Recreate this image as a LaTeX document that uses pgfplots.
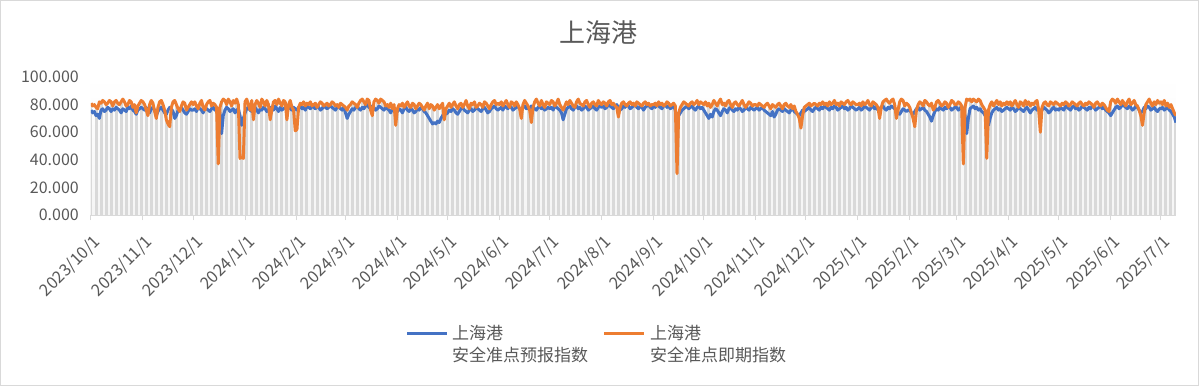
\documentclass[border=0pt]{standalone}
\usepackage{pgfplots}
\pgfplotsset{compat=1.18}
\usepackage{pgfplotstable}
\usepackage{fontspec}
\setmainfont{Noto Sans CJK SC}
\definecolor{sblue}{HTML}{4472C4}
\definecolor{sorange}{HTML}{ED7D31}
\definecolor{txtgray}{HTML}{595959}
\definecolor{axgray}{HTML}{D9D9D9}
\definecolor{dropgray}{HTML}{D9D9D9}

% 上海港 安全准点预报指数 (daily, 2023/10/1 - 2025/7/10)
\pgfplotstableread[header=false,row sep=\\]{
76\\74\\75\\72\\73\\70\\76\\77\\75\\76\\78\\77\\75\\77\\76\\78\\77\\76\\74\\77\\76\\75\\78\\77\\79\\76\\75\\73\\76\\77\\78\\
77\\76\\78\\75\\74\\77\\78\\76\\72\\75\\77\\78\\76\\74\\73\\76\\78\\77\\75\\70\\72\\76\\77\\78\\76\\74\\73\\75\\77\\76\\
76\\77\\75\\78\\77\\76\\74\\78\\77\\76\\75\\77\\78\\76\\77\\75\\74\\59\\72\\76\\78\\77\\75\\76\\77\\74\\76\\77\\72\\65\\70\\
74\\77\\78\\76\\75\\77\\78\\76\\74\\77\\76\\78\\77\\75\\76\\78\\77\\76\\79\\77\\75\\78\\76\\77\\78\\79\\78\\77\\76\\78\\77\\
76\\78\\79\\77\\78\\76\\79\\78\\77\\79\\78\\77\\79\\78\\76\\77\\79\\78\\77\\78\\79\\78\\77\\76\\78\\79\\77\\76\\78\\
74\\70\\73\\75\\77\\76\\78\\79\\77\\76\\78\\77\\79\\80\\78\\77\\79\\78\\76\\77\\79\\78\\77\\76\\78\\77\\76\\74\\77\\76\\75\\
75\\77\\76\\74\\77\\78\\76\\75\\77\\76\\74\\75\\77\\76\\78\\77\\75\\74\\72\\70\\68\\66\\67\\66\\68\\67\\70\\72\\74\\73\\
74\\76\\75\\77\\76\\74\\73\\75\\77\\78\\76\\75\\74\\76\\77\\75\\76\\78\\77\\76\\75\\77\\78\\76\\74\\75\\77\\78\\79\\77\\76\\
77\\78\\76\\79\\78\\77\\79\\78\\76\\77\\78\\79\\77\\76\\78\\79\\77\\78\\76\\79\\78\\77\\76\\78\\79\\77\\78\\76\\77\\78\\
77\\78\\76\\79\\78\\77\\76\\74\\69\\73\\77\\78\\79\\77\\76\\78\\79\\77\\78\\76\\77\\79\\78\\76\\77\\78\\79\\77\\76\\78\\79\\
78\\79\\77\\78\\80\\79\\78\\77\\79\\80\\78\\76\\77\\79\\78\\80\\79\\77\\78\\79\\80\\78\\77\\79\\78\\76\\78\\79\\80\\78\\77\\
79\\78\\80\\79\\78\\77\\79\\80\\78\\79\\77\\78\\79\\76\\69\\72\\74\\76\\77\\78\\79\\77\\78\\79\\77\\76\\78\\79\\77\\78\\
76\\74\\72\\70\\73\\71\\75\\77\\76\\74\\72\\75\\77\\76\\74\\77\\78\\76\\75\\77\\76\\78\\77\\75\\76\\78\\77\\76\\78\\77\\76\\
77\\78\\76\\77\\78\\76\\75\\74\\73\\72\\75\\71\\73\\76\\77\\76\\75\\77\\76\\75\\74\\76\\77\\75\\74\\73\\72\\74\\76\\75\\
76\\77\\78\\76\\75\\77\\78\\77\\76\\78\\77\\79\\78\\77\\76\\78\\77\\79\\78\\76\\77\\78\\79\\77\\78\\76\\77\\79\\78\\77\\76\\
77\\78\\76\\77\\79\\78\\77\\76\\78\\79\\77\\78\\76\\77\\78\\79\\77\\76\\78\\77\\79\\78\\77\\76\\74\\73\\75\\77\\76\\75\\76\\
76\\74\\73\\75\\77\\78\\76\\77\\78\\76\\75\\73\\71\\68\\72\\75\\77\\76\\78\\77\\76\\78\\77\\79\\78\\76\\77\\78\\
78\\76\\77\\79\\75\\72\\59\\70\\77\\78\\79\\77\\78\\76\\77\\75\\74\\72\\70\\65\\70\\74\\76\\77\\78\\76\\77\\75\\76\\77\\78\\
77\\76\\78\\77\\75\\76\\78\\77\\76\\75\\77\\78\\76\\74\\76\\77\\78\\76\\77\\75\\76\\78\\77\\76\\74\\75\\77\\78\\76\\77\\
76\\78\\77\\76\\79\\78\\77\\76\\78\\79\\77\\78\\76\\77\\79\\78\\77\\76\\78\\77\\79\\78\\76\\77\\78\\79\\77\\78\\76\\75\\74\\
72\\74\\76\\78\\79\\77\\78\\80\\79\\78\\77\\79\\78\\76\\77\\79\\78\\76\\74\\75\\78\\77\\79\\78\\76\\77\\78\\76\\75\\77\\
77\\78\\76\\77\\78\\76\\75\\73\\71\\67\\
}\bluedata

% 上海港 安全准点即期指数
\pgfplotstableread[header=false,row sep=\\]{
81\\79\\80\\78\\77\\82\\81\\83\\82\\80\\81\\83\\82\\79\\82\\83\\81\\80\\82\\84\\82\\79\\80\\83\\82\\78\\80\\74\\79\\81\\83\\
82\\80\\76\\72\\80\\83\\81\\75\\70\\78\\82\\83\\80\\76\\69\\66\\64\\78\\82\\83\\80\\77\\75\\79\\82\\81\\76\\78\\80\\82\\
80\\82\\79\\77\\81\\83\\78\\76\\80\\82\\83\\79\\81\\80\\78\\37\\78\\82\\84\\83\\80\\84\\82\\79\\83\\81\\84\\80\\41\\42\\41\\
82\\84\\80\\76\\83\\69\\80\\83\\81\\78\\84\\82\\79\\83\\80\\69\\76\\82\\83\\80\\84\\81\\79\\83\\82\\69\\80\\83\\78\\76\\61\\
62\\78\\81\\80\\82\\79\\81\\80\\82\\79\\80\\81\\78\\80\\82\\81\\79\\80\\81\\79\\80\\82\\81\\79\\80\\78\\81\\80\\79\\
78\\76\\79\\80\\82\\81\\80\\78\\81\\83\\84\\82\\80\\84\\83\\76\\72\\82\\84\\83\\81\\84\\83\\82\\79\\80\\78\\81\\77\\80\\65\\
77\\80\\79\\81\\78\\80\\82\\79\\78\\81\\80\\77\\79\\81\\80\\78\\76\\79\\81\\77\\80\\79\\76\\78\\80\\77\\79\\81\\69\\77\\
79\\81\\78\\80\\82\\79\\77\\80\\81\\78\\80\\83\\79\\77\\81\\80\\82\\78\\79\\81\\80\\78\\82\\81\\79\\77\\80\\82\\83\\80\\81\\
80\\82\\79\\81\\83\\80\\78\\82\\81\\79\\82\\80\\77\\70\\80\\83\\81\\79\\76\\67\\78\\82\\84\\81\\79\\83\\80\\78\\82\\81\\
80\\83\\82\\79\\81\\84\\80\\78\\76\\79\\82\\80\\83\\81\\79\\78\\82\\84\\81\\80\\79\\82\\83\\80\\78\\81\\82\\80\\79\\83\\81\\
80\\82\\81\\79\\82\\83\\80\\81\\79\\78\\71\\78\\81\\82\\80\\79\\81\\82\\80\\81\\79\\82\\81\\80\\79\\81\\82\\80\\81\\79\\80\\
80\\81\\79\\82\\80\\81\\79\\80\\82\\81\\79\\80\\81\\79\\30\\74\\78\\80\\82\\81\\80\\79\\81\\82\\80\\81\\83\\80\\82\\81\\
80\\82\\79\\81\\78\\80\\83\\81\\79\\82\\84\\80\\81\\79\\82\\83\\80\\78\\81\\82\\80\\79\\81\\83\\80\\78\\80\\82\\81\\79\\80\\
80\\79\\81\\80\\79\\78\\80\\81\\79\\77\\80\\79\\78\\80\\81\\79\\77\\80\\81\\79\\78\\80\\77\\79\\75\\73\\70\\63\\72\\78\\
79\\80\\81\\79\\80\\81\\80\\79\\81\\80\\82\\80\\81\\79\\82\\80\\81\\83\\80\\81\\79\\82\\81\\80\\82\\83\\81\\80\\82\\81\\80\\
80\\81\\79\\82\\80\\81\\83\\80\\79\\82\\81\\80\\78\\70\\78\\82\\83\\84\\82\\81\\83\\84\\80\\70\\76\\82\\84\\83\\79\\81\\80\\
78\\74\\70\\64\\76\\80\\82\\81\\79\\83\\82\\80\\79\\81\\76\\78\\82\\83\\81\\79\\80\\82\\81\\78\\80\\83\\82\\80\\
80\\82\\81\\79\\37\\78\\84\\83\\84\\82\\84\\83\\82\\84\\83\\80\\78\\76\\41\\76\\80\\82\\79\\81\\83\\80\\82\\79\\81\\80\\82\\
80\\82\\79\\81\\83\\80\\78\\82\\81\\79\\83\\80\\82\\79\\81\\80\\82\\83\\76\\60\\78\\81\\82\\80\\79\\82\\81\\80\\82\\81\\
80\\79\\81\\80\\82\\81\\79\\80\\82\\81\\80\\79\\81\\82\\80\\79\\81\\80\\82\\81\\80\\78\\81\\82\\80\\79\\81\\80\\78\\76\\75\\
82\\84\\83\\81\\84\\82\\80\\83\\81\\79\\82\\84\\80\\81\\83\\80\\79\\76\\72\\65\\74\\80\\82\\84\\81\\79\\82\\80\\83\\81\\
82\\80\\83\\79\\81\\78\\80\\77\\74\\72\\
}\orangedata

\begin{document}
\begin{tikzpicture}
\useasboundingbox (-91bp,-171bp) rectangle (1108bp,215bp);
\fill[white] (-91bp,-171bp) rectangle (1108bp,215bp);
\draw[axgray, line width=1bp] (-90.5bp,-170.5bp) rectangle (1107.5bp,214.5bp);
\begin{axis}[
  at={(0,0)}, anchor=south west,
  scale only axis, width=1085bp, height=138bp,
  xmin=0, xmax=648, ymin=0, ymax=100,
  axis x line*=bottom, axis y line*=left,
  x axis line style={draw=axgray, line width=1bp, -},
  y axis line style={draw=none},
  ytick={0,20,40,60,80,100},
  ytick style={draw=none},
  xtick={0,31,61,92,123,152,183,213,244,274,305,336,366,397,427,458,489,517,548,578,609,639},
  xticklabels={2023/10/1,2023/11/1,2023/12/1,2024/1/1,2024/2/1,2024/3/1,2024/4/1,2024/5/1,2024/6/1,2024/7/1,2024/8/1,2024/9/1,2024/10/1,2024/11/1,2024/12/1,2025/1/1,2025/2/1,2025/3/1,2025/4/1,2025/5/1,2025/6/1,2025/7/1},
  x tick style={draw=axgray, line width=1bp},
  tick align=outside, major tick length=5bp,
  /pgf/number format/fixed, /pgf/number format/fixed zerofill,
  /pgf/number format/precision=3, /pgf/number format/assume math mode=true,
  yticklabel style={font=\fontsize{16bp}{18bp}\selectfont, text=txtgray, inner sep=0pt, xshift=-7bp},
  xticklabel style={font=\fontsize{16.5bp}{18bp}\selectfont, text=txtgray, inner sep=0pt, anchor=east, xshift=7bp, yshift=-19bp, rotate=45},
  axis background/.style={shade, top color=white, bottom color=black!4},
]
\addplot[ycomb, dropgray, line width=3bp, each nth point=3, filter discard warning=false, forget plot, mark=none] table[x expr=\coordindex, y index=0] {\bluedata};
\addplot[ycomb, dropgray, line width=3bp, each nth point=3, filter discard warning=false, forget plot, mark=none] table[x expr=\coordindex, y index=0] {\orangedata};
\addplot[sblue, line width=3bp, line join=round, mark=none] table[x expr=\coordindex, y index=0] {\bluedata};
\addplot[sorange, line width=3bp, line join=round, mark=none] table[x expr=\coordindex, y index=0] {\orangedata};
\end{axis}
\node[text=txtgray, font=\fontsize{26bp}{30bp}\selectfont] at (507bp,182bp) {上海港};
\draw[sblue, line width=3bp] (316bp,-118bp) -- (356bp,-118bp);
\node[anchor=west, inner sep=0pt, text=txtgray, font=\fontsize{17bp}{20bp}\selectfont] at (361bp,-118bp) {上海港};
\node[anchor=west, inner sep=0pt, text=txtgray, font=\fontsize{17bp}{20bp}\selectfont] at (361bp,-140bp) {安全准点预报指数};
\draw[sorange, line width=3bp] (513bp,-118bp) -- (553bp,-118bp);
\node[anchor=west, inner sep=0pt, text=txtgray, font=\fontsize{17bp}{20bp}\selectfont] at (559bp,-118bp) {上海港};
\node[anchor=west, inner sep=0pt, text=txtgray, font=\fontsize{17bp}{20bp}\selectfont] at (559bp,-140bp) {安全准点即期指数};
\end{tikzpicture}
\end{document}
